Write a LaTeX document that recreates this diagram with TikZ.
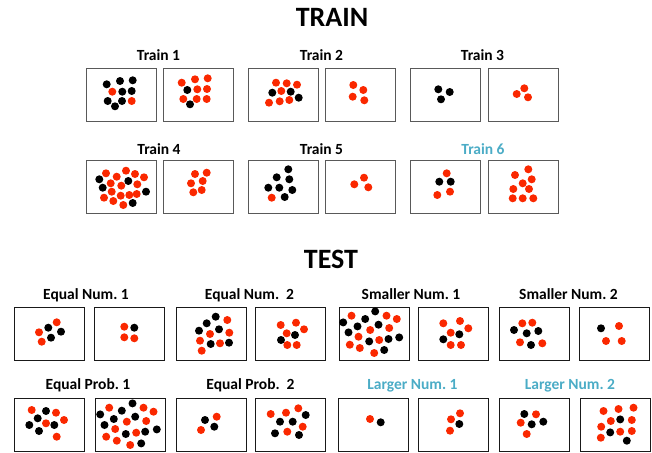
\documentclass[tikz,border=0pt]{standalone}
\usepackage{fontspec}
\setmainfont{Carlito}
\definecolor{rd}{RGB}{250,40,0}
\colorlet{bk}{black}
\definecolor{cyanlabel}{RGB}{75,172,198}
\newcommand{\putdots}[2]{\foreach \dx/\dy/\dc in {#2} \fill[\dc] ([shift={(\dx,\dy)}]#1.north west) circle (4pt);}
\begin{document}
\frenchspacing
\begin{tikzpicture}[x=1pt,y=-1pt,
  box/.style={draw,line width=0.9pt,minimum width=70pt,minimum height=53pt,inner sep=0pt,anchor=north west},
  train box/.style={box,draw=black!65},
  test box/.style={box,draw=black!90},
  head/.style={font=\bfseries\fontsize{28}{32}\selectfont,anchor=base},
  caption/.style={font=\bfseries\fontsize{15.5}{18}\selectfont,anchor=base},
  new/.style={caption,text=cyanlabel}]
  \useasboundingbox (0,0) rectangle (652,452);

  % titles
  \node[head] (train) at (332,27) {TRAIN};
  \node[head] (test) at (331,268) {TEST};

  % training pairs
  \node[caption] (c1) at (158.5,60.5) {Train 1};
  \node[caption] (c2) at (321.5,60.5) {Train 2};
  \node[caption] (c3) at (482.5,60.5) {Train 3};
  \node[caption] (c4) at (159,154) {Train 4};
  \node[caption] (c5) at (321.5,154) {Train 5};
  \node[new] (c6) at (483,154) {Train 6};

  \node[train box] (t1a) at (85.7,67.7) {};
  \node[train box] (t1b) at (163.3,67.7) {};
  \node[train box] (t2a) at (248.3,67.7) {};
  \node[train box] (t2b) at (325.3,67.7) {};
  \node[train box] (t3a) at (410,67.7) {};
  \node[train box] (t3b) at (487.7,67.7) {};
  \node[train box] (t4a) at (86,160) {};
  \node[train box] (t4b) at (163.3,160) {};
  \node[train box] (t5a) at (248.3,160) {};
  \node[train box] (t5b) at (325.3,160) {};
  \node[train box] (t6a) at (410,160) {};
  \node[train box] (t6b) at (487.7,160) {};

  \putdots{t1a}{21/16.6/bk, 34.3/13.3/bk, 47/12.6/bk, 26.6/24/rd, 36.6/24/bk, 46/23.3/bk, 22/33.3/bk, 36.3/33.3/bk, 46/33.3/rd, 29.3/38.6/bk}
  \putdots{t1b}{18.4/15/rd, 31.7/11.6/rd, 44.4/10.6/rd, 24/22.3/bk, 34/21.6/rd, 43.7/21.3/rd, 20/31.3/rd, 33.4/31.3/rd, 43.4/31.3/rd, 26.7/36.6/bk}
  \putdots{t2a}{27.7/15/rd, 38.4/15.6/rd, 48.7/17/rd, 24/25/bk, 33/23.3/rd, 42.4/24/bk, 50.4/30/bk, 20.7/35/rd, 31.4/33.6/rd, 41/32.3/rd}
  \putdots{t2b}{28/17.3/rd, 38/22.3/rd, 27.4/29/rd, 39/32.6/rd}
  \putdots{t3a}{28.3/21.6/bk, 39.7/24.3/bk, 31/31.6/bk}
  \putdots{t3b}{36.6/20.6/rd, 29/26.3/rd, 40.3/29.6/rd}
  \putdots{t4a}{20/13.3/rd, 30.7/16.7/rd, 40/10.7/rd, 49/14/rd, 58/17.3/rd, 13.3/19.3/bk, 42.3/21/bk, 24.7/23.3/rd, 35.3/25.7/rd, 51.3/24.3/rd, 16.7/27.7/bk, 25.7/31.7/rd, 34.7/35.7/rd, 43.3/35/rd, 50.7/34/rd, 60/31.7/bk, 18/37.7/rd, 27.3/41/rd, 37.3/45/rd, 46.7/43/bk}
  \putdots{t4b}{31.7/14/rd, 43.4/12.7/rd, 27.7/23.3/rd, 39.4/21/rd, 30/32.3/rd, 38.4/30/rd}
  \putdots{t5a}{40/9.3/bk, 28.4/17.3/bk, 41/19.3/bk, 20/27.7/bk, 31/27.7/bk, 44/30/bk, 23.4/37.7/rd, 36.4/37/bk}
  \putdots{t5b}{38.7/17.7/rd, 29/24.3/rd, 43/27.3/rd}
  \putdots{t6a}{36.7/13.3/rd, 29.3/21.7/bk, 40.7/21.7/bk, 40/31.7/rd, 27.3/35/rd}
  \putdots{t6b}{40.6/9.3/rd, 27.3/15/rd, 44/19.3/rd, 35/23.3/rd, 25.6/29/rd, 41.3/29/rd, 25/38.3/rd, 35/38.3/rd, 45.6/38.3/rd}

  % test pairs
  \node[caption] (d1) at (86,299) {Equal Num. 1};
  \node[caption] (d2) at (249.5,299) {Equal Num.\ \ 2};
  \node[caption] (d3) at (411,299) {Smaller Num. 1};
  \node[caption] (d4) at (568.5,299) {Smaller Num. 2};
  \node[caption] (d5) at (88,389) {Equal Prob. 1};
  \node[caption] (d6) at (250.5,389) {Equal Prob.\ \ 2};
  \node[new] (d7) at (412.5,389) {Larger Num. 1};
  \node[new] (d8) at (570,389) {Larger Num. 2};

  \node[test box] (e1a) at (14,306.7) {};
  \node[test box] (e1b) at (94.3,306.7) {};
  \node[test box] (e2a) at (175.7,306.7) {};
  \node[test box] (e2b) at (255,306.7) {};
  \node[test box] (s1a) at (338.5,306.7) {};
  \node[test box] (s1b) at (418.3,306.7) {};
  \node[test box] (s2a) at (499,306.7) {};
  \node[test box] (s2b) at (579,306.7) {};
  \node[test box] (p1a) at (14,397.7) {};
  \node[test box] (p1b) at (94.5,397.7) {};
  \node[test box] (p2a) at (175.7,397.7) {};
  \node[test box] (p2b) at (255,397.7) {};
  \node[test box] (l1a) at (338.3,397.7) {};
  \node[test box] (l1b) at (418.3,397.7) {};
  \node[test box] (l2a) at (499,397.7) {};
  \node[test box] (l2b) at (579.5,397.7) {};

  \putdots{e1a}{42.7/15.6/rd, 34.3/21/bk, 47/25/bk, 25/25.6/rd, 37/31/bk, 27.7/35/rd}
  \putdots{e1b}{30/20/rd, 40/21/bk, 30/30.6/rd, 40/31.6/rd}
  \putdots{e2a}{40/10/bk, 31/16.6/bk, 51.6/13.3/rd, 23.3/24/bk, 34.3/27.3/rd, 43.3/22.6/bk, 53.6/26/rd, 24.3/34/rd, 35/37.3/bk, 44.3/36.6/rd, 53.3/36/bk, 26/44/rd}
  \putdots{e2b}{25.7/18.3/rd, 41/16/rd, 49/22.6/rd, 31.7/26.6/rd, 40/28.3/bk, 26/33.3/bk, 32.3/38.3/rd, 41.7/38.3/rd}
  \putdots{s1a}{36.7/4.7/bk, 13/9/rd, 26.7/12.3/bk, 48/9/rd, 58.3/12.3/rd, 4.7/15.7/bk, 19/19.7/bk, 40/18/bk, 50.7/21.3/rd, 10/25.7/bk, 31.7/23.3/rd, 20/30/rd, 30.7/34.7/bk, 40.7/33.3/rd, 50/32.3/bk, 60.7/30.7/bk, 11.3/38/rd, 21.3/41.3/rd, 35.7/46.3/rd, 45.7/43.3/bk}
  \putdots{s1b}{25/16.6/rd, 41.7/14.3/rd, 50/21.6/rd, 32.4/26/rd, 41/27.6/bk, 25/32.6/bk, 32.4/38.3/rd, 42.7/38.3/rd}
  \putdots{s2a}{23.3/16.6/rd, 33.3/16/rd, 15/23.3/bk, 27.7/26.6/bk, 39.3/24.3/bk, 21/35.6/rd, 32/38.3/bk, 43.3/36.6/rd}
  \putdots{s2b}{22/21.6/bk, 40/19.3/rd, 27/34.3/rd, 42.7/34.3/rd}
  \putdots{p1a}{17.7/12.3/rd, 32/13.3/bk, 42/15/rd, 23.7/20.6/bk, 50/22.3/rd, 15.3/27.3/bk, 32/25.6/rd, 40.3/27.3/bk, 25/33.3/bk, 42.7/39/rd}
  \putdots{p1b}{38/5.7/bk, 14.7/10/rd, 27.3/13/bk, 49/10/rd, 59/14/rd, 5.7/16.7/bk, 19.3/21.3/bk, 40.7/19/bk, 51.7/23.3/rd, 10/27.3/bk, 32.3/24/rd, 20.7/31.3/rd, 31.3/36.3/bk, 41.7/35/rd, 50.7/34/bk, 62.3/31.7/bk, 11.7/39/rd, 22.3/43/rd, 35.7/47.3/rd, 46.7/45.7/bk}
  \putdots{p2a}{41/19/rd, 29.3/22.3/bk, 38.6/29/bk, 25.3/32.3/rd}
  \putdots{p2b}{15.7/16.3/rd, 31/15/rd, 43.3/10.6/rd, 50.7/17.3/bk, 25/24/bk, 37.7/24/bk, 47.7/29/rd, 20/35.6/bk, 32.3/34/rd, 44/37.3/bk}
  \putdots{l1a}{31.7/21.3/rd, 42.4/24.6/bk}
  \putdots{l1b}{41.7/15.6/rd, 32.7/21.6/rd, 41/26.3/bk, 31.7/33/rd}
  \putdots{l2a}{25.3/16.3/bk, 37/16.6/rd, 21.7/25/rd, 32.7/26.6/bk, 44.3/24/bk, 27.7/36.3/rd}
  \putdots{l2b}{24/13.3/rd, 39/11.3/rd, 54/10/rd, 31.3/23.3/rd, 40.7/21.7/bk, 52.3/22.3/rd, 21.7/29/rd, 30.7/34.7/bk, 40.7/34/rd, 52.3/33.3/rd, 21.3/40/rd, 47.3/43/bk}
\end{tikzpicture}
\end{document}
